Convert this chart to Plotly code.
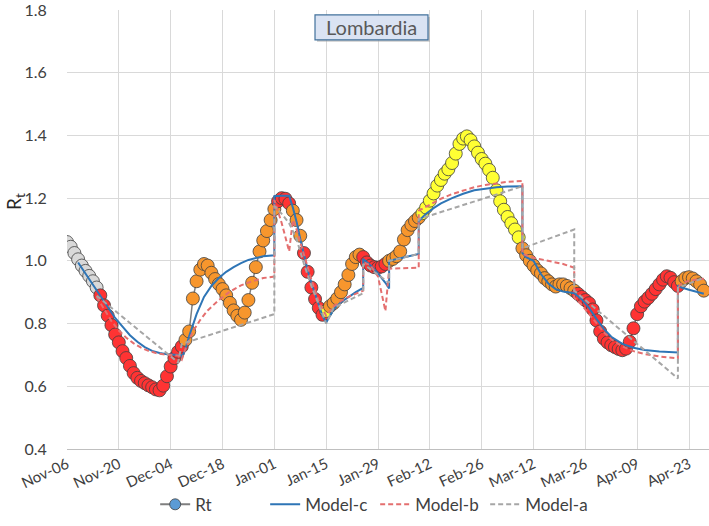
import pandas as pd
import plotly.graph_objects as go

START = "2020-11-06"

# Rt daily values (from 2020-11-06) and colour zone of each point
rt_values = [
    1.060, 1.045, 1.025, 1.005, 0.985, 0.968, 0.952, 0.935, 0.915, 0.890,
    0.858, 0.825, 0.795, 0.765, 0.740, 0.712, 0.690, 0.665, 0.642, 0.627,
    0.617, 0.610, 0.603, 0.597, 0.590, 0.587, 0.602, 0.632, 0.663, 0.690,
    0.710, 0.727, 0.748, 0.775, 0.880, 0.935, 0.972, 0.990, 0.985, 0.962,
    0.942, 0.926, 0.910, 0.890, 0.866, 0.842, 0.825, 0.812, 0.835, 0.875,
    0.930, 0.980, 1.030, 1.065, 1.095, 1.130, 1.165, 1.190, 1.200, 1.198,
    1.183, 1.160, 1.130, 1.080, 1.025, 0.965, 0.915, 0.878, 0.850, 0.828,
    0.840, 0.855, 0.865, 0.880, 0.900, 0.925, 0.955, 0.990, 1.012, 1.020,
    1.012, 0.995, 0.985, 0.980, 0.978, 0.982, 0.990, 1.000, 1.006, 1.015,
    1.030, 1.068, 1.098, 1.115, 1.127, 1.138, 1.152, 1.170, 1.192, 1.215,
    1.240, 1.258, 1.278, 1.292, 1.312, 1.342, 1.373, 1.390, 1.397, 1.385,
    1.365, 1.345, 1.325, 1.310, 1.290, 1.265, 1.225, 1.190, 1.163, 1.140,
    1.120, 1.100, 1.075, 1.040, 1.018, 1.000, 0.985, 0.970, 0.960, 0.945,
    0.935, 0.925, 0.918, 0.925, 0.925, 0.920, 0.913, 0.905, 0.895, 0.885,
    0.875, 0.865, 0.845, 0.810, 0.775, 0.752, 0.740, 0.731, 0.725, 0.719,
    0.715, 0.720, 0.742, 0.785, 0.830, 0.855, 0.870, 0.882, 0.895, 0.910,
    0.925, 0.940, 0.951, 0.946, 0.932, 0.920, 0.935, 0.945, 0.948, 0.944,
    0.935, 0.925, 0.905,
]
rt_zones = (
    ["g"] * 9 + ["r"] * 23 + ["o"] * 25 + ["r"] * 4 + ["o"] * 3 + ["r"] * 6
    + ["y"] * 1 + ["o"] * 9 + ["r"] * 7 + ["o"] * 9 + ["y"] * 27 + ["o"] * 15
    + ["r"] * 28 + ["o"] * 7
)

# Model curves: day offset from START and value
modelc_days = [3, 5, 7, 9, 11, 13, 15, 17, 19, 21, 23, 25, 27, 29, 31,
               31, 32, 33, 35, 37, 39, 41, 43, 45, 47, 49, 51, 53, 56,
               56, 58, 60, 61, 62, 63, 64, 65, 66, 67, 68, 69, 70,
               72, 74, 76, 78, 80,
               80, 82, 84, 86, 87,
               87, 89, 91, 93, 95,
               95, 97, 99, 101, 104, 107, 110, 113, 116, 119, 123,
               123, 124, 126, 128, 130, 132, 134, 136, 137, 139, 141, 143, 145,
               147, 150, 153, 156, 160, 165,
               165, 166, 168, 170, 172]
modelc_vals = [0.995, 0.960, 0.925, 0.890, 0.852, 0.818, 0.790, 0.763, 0.742,
               0.725, 0.713, 0.706, 0.702, 0.700, 0.699,
               0.690, 0.720, 0.760, 0.830, 0.885, 0.920, 0.945, 0.965, 0.980,
               0.993, 1.003, 1.010, 1.015, 1.018,
               1.206, 1.208, 1.208, 1.170, 1.125, 1.070, 1.015, 0.970, 0.930,
               0.895, 0.860, 0.825, 0.803,
               0.845, 0.868, 0.885, 0.900, 0.914,
               1.006, 0.985, 0.960, 0.930, 0.912,
               1.000, 1.006, 1.012, 1.018, 1.022,
               1.127, 1.150, 1.168, 1.183, 1.200, 1.214, 1.225, 1.231, 1.235,
               1.237, 1.238,
               1.025, 1.012, 1.000, 0.958, 0.928, 0.910, 0.902, 0.898, 0.897,
               0.878, 0.850, 0.815, 0.783, 0.758, 0.735, 0.723, 0.716, 0.711,
               0.708,
               0.922, 0.915, 0.908, 0.902, 0.895]

modelb_days = [8, 10, 12, 14, 16, 18, 20, 22, 24, 26, 28, 30,
               31, 32, 34, 36, 38, 41, 44, 47, 50, 53, 56,
               56, 58, 60, 61, 62, 64, 66, 68, 70,
               72, 74, 76, 78, 80,
               80, 82, 84, 86, 87,
               87, 91, 95,
               95, 98, 101, 104, 107, 110, 113, 116, 119, 123,
               123, 126, 130, 134, 137,
               137, 139, 141, 143, 145, 147, 150, 153, 156, 160, 165,
               165, 166, 168, 170, 172]
modelb_vals = [0.885, 0.845, 0.808, 0.778, 0.755, 0.737, 0.723, 0.713, 0.706,
               0.702, 0.700, 0.698,
               0.685, 0.720, 0.775, 0.812, 0.842, 0.875, 0.902, 0.922, 0.935,
               0.945, 0.950,
               1.195, 1.120, 1.030, 1.130, 1.100, 1.020, 0.940, 0.870, 0.825,
               0.855, 0.872, 0.885, 0.895, 0.905,
               0.996, 0.985, 0.950, 0.840, 0.975,
               0.975, 0.976, 0.978,
               1.160, 1.180, 1.198, 1.213, 1.225, 1.235, 1.242, 1.248, 1.252,
               1.255,
               1.022, 1.010, 1.000, 0.990, 0.978,
               0.883, 0.860, 0.830, 0.800, 0.772, 0.750, 0.727, 0.712, 0.703,
               0.695, 0.689,
               0.914, 0.928, 0.937, 0.941, 0.943]

modela_days = [8, 30, 31, 56,
               56, 58, 60, 62, 64, 66, 68, 70,
               72, 80,
               80, 87,
               87, 95,
               95, 123,
               123, 137,
               137, 165,
               165, 172]
modela_vals = [0.889, 0.676, 0.735, 0.830,
               1.175, 1.150, 1.120, 1.070, 0.990, 0.920, 0.860, 0.800,
               0.850, 0.897,
               0.990, 0.930,
               1.000, 1.022,
               1.133, 1.238,
               1.040, 1.100,
               0.905, 0.625,
               0.914, 0.946]

tick_labels = ["Nov-06", "Nov-20", "Dec-04", "Dec-18", "Jan-01", "Jan-15", "Jan-29",
               "Feb-12", "Feb-26", "Mar-12", "Mar-26", "Apr-09", "Apr-23"]
y_ticks = [0.4, 0.6, 0.8, 1.0, 1.2, 1.4, 1.6, 1.8]

zone_colors = {"g": "#D9D9D9", "r": "#FF3333", "o": "#F7962D", "y": "#FFFF33"}

start = pd.Timestamp(START)
rt_dates = pd.date_range(start, periods=len(rt_values), freq="D")
tick_vals = pd.date_range(start, periods=len(tick_labels), freq="14D")


def to_dates(days):
    return [start + pd.Timedelta(days=d) for d in days]


fig = go.Figure()

# legend-only entry for Rt (blue marker as in the reference legend)
fig.add_trace(go.Scatter(
    x=[None], y=[None], mode="lines+markers", name="Rt",
    line=dict(color="#7F7F7F", width=2),
    marker=dict(size=11, color="#5B9BD5", line=dict(color="#404040", width=0.8)),
))
fig.add_trace(go.Scatter(
    x=rt_dates, y=rt_values, mode="lines+markers", name="Rt", showlegend=False,
    line=dict(color="#7F7F7F", width=1.5),
    marker=dict(size=13, color=[zone_colors[z] for z in rt_zones],
                line=dict(color="#404040", width=0.8)),
))
fig.add_trace(go.Scatter(
    x=to_dates(modelc_days), y=modelc_vals, mode="lines", name="Model-c",
    line=dict(color="#2E75B6", width=2),
))
fig.add_trace(go.Scatter(
    x=to_dates(modelb_days), y=modelb_vals, mode="lines", name="Model-b",
    line=dict(color="#E46F6F", width=2, dash="5px,3px"),
))
fig.add_trace(go.Scatter(
    x=to_dates(modela_days), y=modela_vals, mode="lines", name="Model-a",
    line=dict(color="#A6A6A6", width=2, dash="5px,3px"),
))

font_family = "Lato, 'Open Sans', sans-serif"

fig.update_layout(
    width=709, height=526,
    margin=dict(l=67, r=0, t=8, b=77),
    paper_bgcolor="white", plot_bgcolor="white",
    font=dict(family=font_family, color="#404040"),
    showlegend=True,
    legend=dict(orientation="h", x=0.48, xanchor="center", y=-0.127, yanchor="middle",
                font=dict(size=17, color="#404040"), itemwidth=30,
                entrywidth=65, entrywidthmode="pixels"),
    xaxis=dict(
        type="date",
        range=[start, start + pd.Timedelta(days=173.4)],
        tickvals=list(tick_vals), ticktext=tick_labels, tickangle=-25,
        tickfont=dict(size=15, color="#404040"),
        showgrid=True, gridcolor="#D9D9D9", gridwidth=1,
        showline=True, linecolor="#BFBFBF", linewidth=1,
        zeroline=False, ticks="",
    ),
    yaxis=dict(
        range=[0.4, 1.8], tickvals=y_ticks, tickformat=".1f",
        tickfont=dict(size=16, color="#404040"),
        ticks="outside", ticklen=16, tickcolor="rgba(0,0,0,0)",
        ticklabeloverflow="allow",
        showgrid=True, gridcolor="#D9D9D9", gridwidth=1,
        showline=False, zeroline=False,
    ),
    shapes=[
        dict(type="rect", xref="paper", yref="paper", layer="above",
             x0=0.3894, x1=0.5654, y0=0.9274, y1=0.984,
             fillcolor="#A6A6A6", line=dict(width=0), opacity=0.6),
        dict(type="rect", xref="paper", yref="paper", layer="above",
             x0=0.3863, x1=0.5623, y0=0.932, y1=0.9887,
             fillcolor="#DAE3F3", line=dict(color="#41719C", width=1.2)),
    ],
    annotations=[
        dict(text="Lombardia", xref="paper", yref="paper", x=0.4743, y=0.9603,
             xanchor="center", yanchor="middle", showarrow=False,
             font=dict(size=20, color="#595959", family=font_family)),
        dict(text="R<sub>t</sub>", xref="paper", yref="paper", x=-0.081, y=0.565,
             xanchor="center", yanchor="middle", showarrow=False, textangle=-90,
             font=dict(size=19, color="#262626", family=font_family)),
    ],
)

fig.write_html(
    "out.html",
    config={"displayModeBar": False},
    post_script="document.body.style.margin='0';document.body.style.overflow='hidden';",
)
